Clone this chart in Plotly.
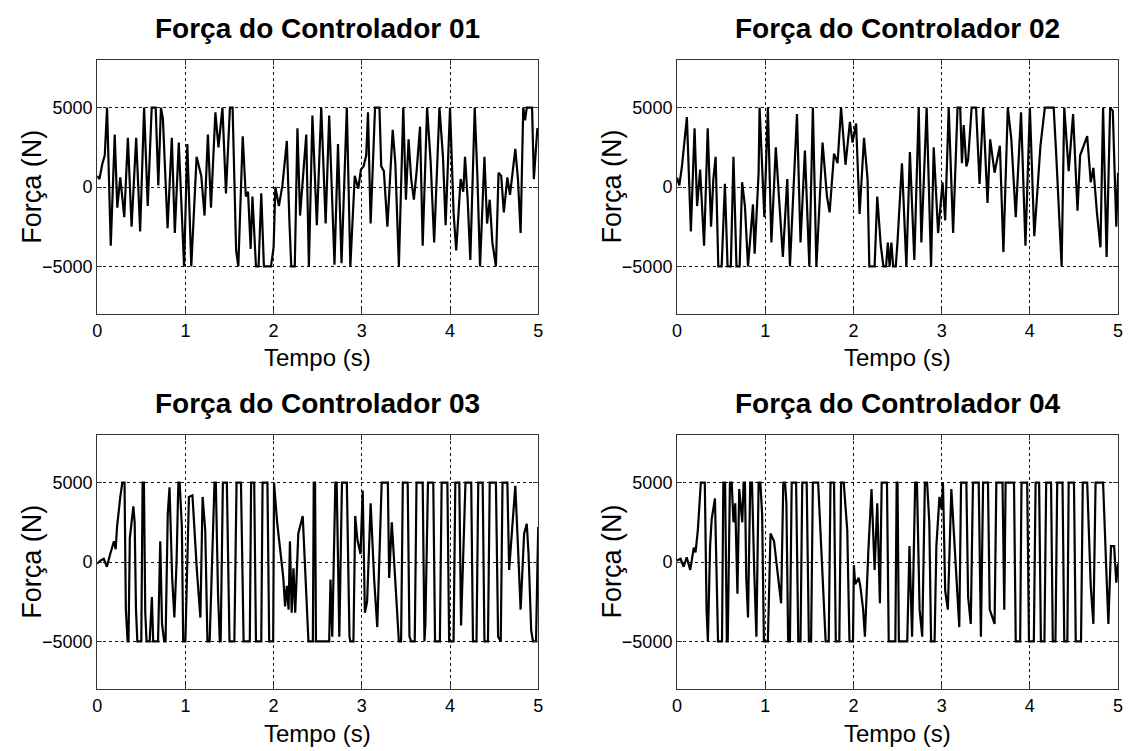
import plotly.graph_objects as go

# ---------------- data ----------------
titles = ["Força do Controlador 01", "Força do Controlador 02",
          "Força do Controlador 03", "Força do Controlador 04"]
x_ticks = [0, 1, 2, 3, 4, 5]
y_ticks = [-5000, 0, 5000]
x_label = "Tempo (s)"
y_label = "Força (N)"

t1 = [0.000, 0.026, 0.056, 0.086, 0.112, 0.154, 0.199, 0.228, 0.262, 0.307, 0.348, 0.390, 0.442, 0.487,
      0.532, 0.573, 0.618, 0.663, 0.693, 0.723, 0.745, 0.798, 0.846, 0.880, 0.925, 0.985, 1.022, 1.067,
      1.127, 1.180, 1.217, 1.255, 1.290, 1.340, 1.375, 1.420, 1.460, 1.505, 1.535, 1.575, 1.600, 1.650,
      1.685, 1.710, 1.740, 1.760, 1.800, 1.830, 1.860, 1.890, 1.970, 2.000, 2.020, 2.060, 2.100, 2.150,
      2.180, 2.200, 2.240, 2.270, 2.300, 2.370, 2.400, 2.440, 2.490, 2.540, 2.590, 2.630, 2.690, 2.730,
      2.770, 2.830, 2.870, 2.920, 2.960, 2.990, 3.020, 3.050, 3.070, 3.100, 3.150, 3.200, 3.220, 3.250,
      3.290, 3.350, 3.380, 3.420, 3.470, 3.500, 3.530, 3.560, 3.590, 3.620, 3.660, 3.690, 3.740, 3.780,
      3.820, 3.880, 3.920, 3.950, 4.000, 4.040, 4.070, 4.120, 4.150, 4.170, 4.200, 4.230, 4.280, 4.310,
      4.340, 4.390, 4.420, 4.450, 4.480, 4.520, 4.550, 4.580, 4.610, 4.650, 4.680, 4.710, 4.740, 4.770,
      4.800, 4.830, 4.850, 4.870, 4.930, 4.950, 4.990, 5.000]
f1 = [700, 500, 1400, 2000, 5000, -3700, 3300, -1300, 600, -1900, 3100, -2500, 3100, -2800,
      5000, -1200, 5000, 5000, 100, 5000, 4300, -2600, 3100, -2900, 2800, -5000, 2700, -5000,
      1900, 700, -1800, 3300, -1300, 4700, 2500, 5000, -400, 5000, 5000, -4000, -5000, 3200,
      -600, -300, -3900, -600, -5000, -5000, -400, -5000, -5000, -3800, 0, -1200, 100, 2900,
      -2300, -5000, -5000, 3700, -1800, 3300, -5000, 4500, -2400, 5000, -2300, 4500, -4900, 2700,
      -4800, 5000, -5000, 700, -100, 1100, 1300, 2000, 4700, -2300, 5000, 5000, 1300, 1000,
      -2500, 3600, 1500, -5000, 5000, -800, 3000, 500, -800, 900, 3800, -3700, 5000, 1600,
      -3500, 5000, 1900, -2400, 5000, -1600, -4000, 500, -300, 1900, -800, -4600, 5000, 700,
      -5000, 1900, -2300, -800, -3500, -5000, 900, 700, -1600, 600, -500, 1100, 2400, 500,
      -2900, 5000, 4200, 5000, 5000, 500, 3700, 3600]

t2 = [0.000, 0.026, 0.056, 0.112, 0.157, 0.199, 0.228, 0.262, 0.307, 0.348, 0.386, 0.412, 0.438, 0.468,
      0.506, 0.543, 0.573, 0.610, 0.640, 0.674, 0.710, 0.738, 0.770, 0.805, 0.861, 0.880, 0.925, 0.936,
      0.990, 1.030, 1.070, 1.120, 1.160, 1.200, 1.250, 1.280, 1.360, 1.400, 1.450, 1.500, 1.540, 1.580,
      1.650, 1.700, 1.730, 1.780, 1.820, 1.860, 1.910, 1.960, 1.990, 2.030, 2.070, 2.120, 2.160, 2.180,
      2.240, 2.270, 2.310, 2.340, 2.370, 2.390, 2.410, 2.430, 2.450, 2.480, 2.500, 2.550, 2.600, 2.640,
      2.690, 2.740, 2.770, 2.830, 2.880, 2.910, 2.960, 3.010, 3.040, 3.080, 3.130, 3.180, 3.210, 3.230,
      3.250, 3.280, 3.300, 3.340, 3.390, 3.430, 3.470, 3.520, 3.550, 3.600, 3.660, 3.700, 3.750, 3.790,
      3.840, 3.900, 3.950, 4.000, 4.050, 4.120, 4.170, 4.270, 4.300, 4.360, 4.390, 4.440, 4.490, 4.540,
      4.570, 4.610, 4.650, 4.690, 4.720, 4.760, 4.800, 4.830, 4.870, 4.910, 4.940, 4.980, 5.000]
f2 = [600, 100, 1300, 4400, -2800, 3700, -1200, 1100, -3700, 3700, -2500, 500, 1900, -5000,
      -5000, 200, -5000, -5000, 1900, -5000, -5000, 300, -1200, -5000, -1100, -4200, 900, 5000,
      -1900, 5000, -3500, 2500, -1000, -4400, 500, -5000, 4600, -3500, 2300, -5000, 5000, -5000,
      2800, -600, -1600, 2100, 1500, 5000, 1400, 4100, 2800, 4000, -1700, 3100, 500, -5000,
      -5000, -600, -3700, -5000, -5000, -3500, -5000, -3500, -5000, -5000, -3400, 1500, -5000, 2200,
      -4600, 5000, -3500, 5000, -5000, 2500, -2900, 300, -2100, 5000, -2900, 5000, 5000, 1500,
      3900, 1300, 1700, 5000, 5000, 200, 5000, -1000, 3000, 900, 2600, -4100, 5000, 3000,
      -1900, 4700, -3700, 5000, -3100, 2600, 5000, 5000, 1900, -5000, 5000, 1000, 4600, -1500,
      2000, 2600, 3200, 300, 1200, -1600, -3800, 5000, -4400, 5000, 4800, -2500, 900]

t3 = [0.000, 0.040, 0.075, 0.110, 0.150, 0.190, 0.210, 0.225, 0.262, 0.285, 0.310, 0.325, 0.345, 0.355,
      0.370, 0.386, 0.410, 0.425, 0.440, 0.455, 0.500, 0.515, 0.530, 0.545, 0.560, 0.595, 0.620, 0.635,
      0.690, 0.715, 0.735, 0.760, 0.775, 0.800, 0.820, 0.850, 0.875, 0.900, 0.920, 0.935, 0.960, 0.975,
      1.000, 1.040, 1.080, 1.130, 1.170, 1.195, 1.225, 1.250, 1.275, 1.330, 1.345, 1.370, 1.390, 1.400,
      1.425, 1.470, 1.500, 1.555, 1.580, 1.630, 1.660, 1.730, 1.745, 1.780, 1.800, 1.860, 1.875, 1.930,
      1.950, 1.995, 2.005, 2.040, 2.080, 2.110, 2.130, 2.150, 2.170, 2.185, 2.205, 2.225, 2.245, 2.280,
      2.330, 2.370, 2.395, 2.445, 2.455, 2.470, 2.480, 2.630, 2.645, 2.665, 2.700, 2.715, 2.745, 2.775,
      2.830, 2.860, 2.870, 2.905, 2.925, 2.950, 2.985, 3.010, 3.035, 3.060, 3.100, 3.140, 3.175, 3.225,
      3.295, 3.310, 3.340, 3.420, 3.445, 3.465, 3.520, 3.540, 3.560, 3.600, 3.620, 3.690, 3.710, 3.720,
      3.750, 3.810, 3.830, 3.885, 3.905, 3.970, 3.990, 4.040, 4.060, 4.105, 4.125, 4.175, 4.240, 4.260,
      4.300, 4.320, 4.370, 4.390, 4.430, 4.450, 4.520, 4.545, 4.575, 4.595, 4.650, 4.670, 4.700, 4.740,
      4.770, 4.800, 4.840, 4.870, 4.890, 4.920, 4.940, 4.975, 4.990, 5.000]
f3 = [-100, 100, 200, -300, 550, 1300, 800, 2200, 4100, 5000, 5000, -3000, -5000, -5000,
      1500, 2400, 3500, 2500, -3000, -5000, -5000, 5000, 5000, -3200, -5000, -5000, -2200, -5000,
      -5000, 1300, -3900, -5000, -5000, 3000, 4700, -1000, -3500, 0, 5000, 5000, 2200, -5000,
      -5000, 4100, 4200, -500, -3500, 4100, 2000, -5000, -5000, 5000, 5000, -2000, -5000, -5000,
      5000, 5000, -5000, -5000, 5000, 5000, -5000, -5000, 5000, 5000, -5000, -5000, 5000, 5000,
      -5000, -5000, 5000, 2500, 300, -1000, -2800, -1500, -3000, 1300, -3200, -400, -3200, 1800,
      2900, -2000, -5000, -5000, 5000, 5000, -5000, -5000, -1100, -4700, 5000, 5000, -4700, 5000,
      5000, -4700, -5000, -5000, 2900, 1400, 500, 4500, -3200, -2500, 3700, -1100, -4100, 5000,
      5000, -1000, 2500, -5000, -5000, 5000, 5000, -4700, -5000, -5000, 5000, 5000, -5000, -4000,
      5000, 5000, -5000, -5000, 5000, 5000, -5000, -5000, 5000, 5000, -4000, 5000, 5000, -5000,
      -5000, 5000, 5000, -5000, -5000, 5000, 5000, -4700, -5000, 5000, 5000, -500, 2000, 4800,
      1000, -3000, 1800, 2400, 500, -4300, -5000, -5000, -500, 2200]

t4 = [0.000, 0.040, 0.075, 0.110, 0.150, 0.190, 0.210, 0.236, 0.270, 0.315, 0.335, 0.350, 0.375, 0.393,
      0.430, 0.450, 0.465, 0.510, 0.525, 0.545, 0.565, 0.575, 0.600, 0.620, 0.640, 0.660, 0.685, 0.705,
      0.740, 0.755, 0.770, 0.785, 0.805, 0.830, 0.850, 0.875, 0.900, 0.925, 0.945, 0.965, 0.985, 1.030,
      1.060, 1.100, 1.140, 1.180, 1.205, 1.225, 1.240, 1.260, 1.280, 1.300, 1.350, 1.375, 1.400, 1.420,
      1.470, 1.495, 1.520, 1.540, 1.600, 1.640, 1.685, 1.720, 1.740, 1.780, 1.800, 1.840, 1.860, 1.890,
      1.930, 1.955, 1.995, 2.005, 2.020, 2.060, 2.080, 2.110, 2.130, 2.170, 2.205, 2.240, 2.270, 2.300,
      2.320, 2.380, 2.400, 2.475, 2.490, 2.500, 2.515, 2.610, 2.635, 2.665, 2.700, 2.720, 2.750, 2.780,
      2.810, 2.835, 2.860, 2.880, 2.920, 2.940, 2.975, 3.000, 3.015, 3.040, 3.070, 3.110, 3.160, 3.200,
      3.220, 3.280, 3.300, 3.330, 3.355, 3.420, 3.445, 3.470, 3.525, 3.545, 3.600, 3.620, 3.690, 3.710,
      3.725, 3.780, 3.820, 3.840, 3.890, 3.905, 3.970, 3.990, 4.045, 4.065, 4.105, 4.125, 4.165, 4.185,
      4.240, 4.260, 4.290, 4.310, 4.370, 4.390, 4.425, 4.440, 4.500, 4.520, 4.580, 4.600, 4.650, 4.690,
      4.720, 4.745, 4.830, 4.870, 4.890, 4.920, 4.955, 4.980, 5.000]
f4 = [100, 200, -300, 300, -500, 900, 600, 2000, 5000, 5000, -3000, -5000, 1000, 2700,
      4000, -2000, -5000, -5000, 5000, 5000, -5000, -5000, 5000, 5000, 2500, 3700, -2000, 4600,
      2500, 5000, 5000, -1000, -3500, 5000, 5000, -500, -4700, 5000, 5000, 3000, -5000, -5000,
      1800, 1300, -500, -2600, 5000, 5000, 3700, -5000, -5000, 5000, 5000, -5000, -5000, 5000,
      5000, -5000, -5000, 5000, 5000, 100, -5000, -5000, 5000, 5000, -5000, -5000, 5000, 5000,
      2000, -5000, -5000, -200, -1400, -1000, -1600, -3000, -4700, 800, 4600, -500, 3700, -2600,
      5000, 5000, -5000, -5000, 5000, 5000, -5000, -5000, 1000, -4700, 5000, 5000, -3000, -4700,
      5000, 5000, 2500, -5000, -5000, 1000, 4100, 3300, 5000, -1800, -3000, 4600, 0, -4100,
      5000, 5000, -2200, -3900, 5000, 5000, -4700, 5000, 5000, -3000, -3900, 5000, 5000, -3000,
      5000, 5000, 5000, -5000, -5000, 5000, 5000, -5000, -5000, 5000, 5000, -5000, -5000, 5000,
      5000, -5000, -5000, 5000, 5000, -5000, -5000, 5000, 5000, -5000, -5000, 5000, 5000, -1500,
      -3900, 5000, 5000, -1000, -3900, 1000, 1000, -1300, -100]

series = [(t1, f1), (t2, f2), (t3, f3), (t4, f4)]

# ---------------- layout ----------------
W, H = 1132, 751
# plot boxes in pixels: (left, right, top, bottom)
boxes = [(93, 538, 60, 314), (678, 1123, 60, 314),
         (93, 538, 435, 689), (678, 1123, 435, 689)]
FONT = "Liberation Sans, Arial, sans-serif"

fig = go.Figure()
annotations = []
for i, ((t, f), (l, r, tp, bt)) in enumerate(zip(series, boxes)):
    n = "" if i == 0 else str(i + 1)
    fig.add_trace(go.Scatter(x=t, y=f, mode="lines", xaxis="x" + n, yaxis="y" + n,
                             line=dict(color="black", width=2.2), showlegend=False,
                             hoverinfo="skip"))
    common = dict(showgrid=True, gridcolor="#111111", gridwidth=1, griddash="3px,3px",
                  showline=True, linecolor="#333333", linewidth=1, mirror="ticks",
                  ticks="inside", ticklen=5, tickcolor="#333333", zeroline=False,
                  tickfont=dict(family=FONT, size=18, color="black"))
    fig.update_layout(**{
        "xaxis" + n: dict(common, domain=[l / W, r / W], anchor="y" + n,
                          range=[0, 5], tickvals=x_ticks),
        "yaxis" + n: dict(common, domain=[1 - bt / H, 1 - tp / H], anchor="x" + n,
                          range=[-8000, 8000], tickvals=y_ticks),
    })
    cx = (l + r) / 2 / W
    annotations.append(dict(text="<b>" + titles[i] + "</b>", x=cx, y=1 - (tp - 32) / H,
                            xref="paper", yref="paper", showarrow=False,
                            xanchor="center", yanchor="middle",
                            font=dict(family=FONT, size=28, color="black")))
    annotations.append(dict(text=x_label, x=cx, y=1 - (bt + 44) / H,
                            xref="paper", yref="paper", showarrow=False,
                            xanchor="center", yanchor="middle",
                            font=dict(family=FONT, size=24, color="black")))
    annotations.append(dict(text=y_label, x=(l - 66) / W, y=1 - (tp + bt) / 2 / H,
                            xref="paper", yref="paper", showarrow=False, textangle=-90,
                            xanchor="center", yanchor="middle",
                            font=dict(family=FONT, size=27, color="black")))

fig.update_layout(width=W, height=H, margin=dict(l=0, r=0, t=0, b=0),
                  paper_bgcolor="white", plot_bgcolor="white",
                  annotations=annotations)

fig.write_html("out.html")
